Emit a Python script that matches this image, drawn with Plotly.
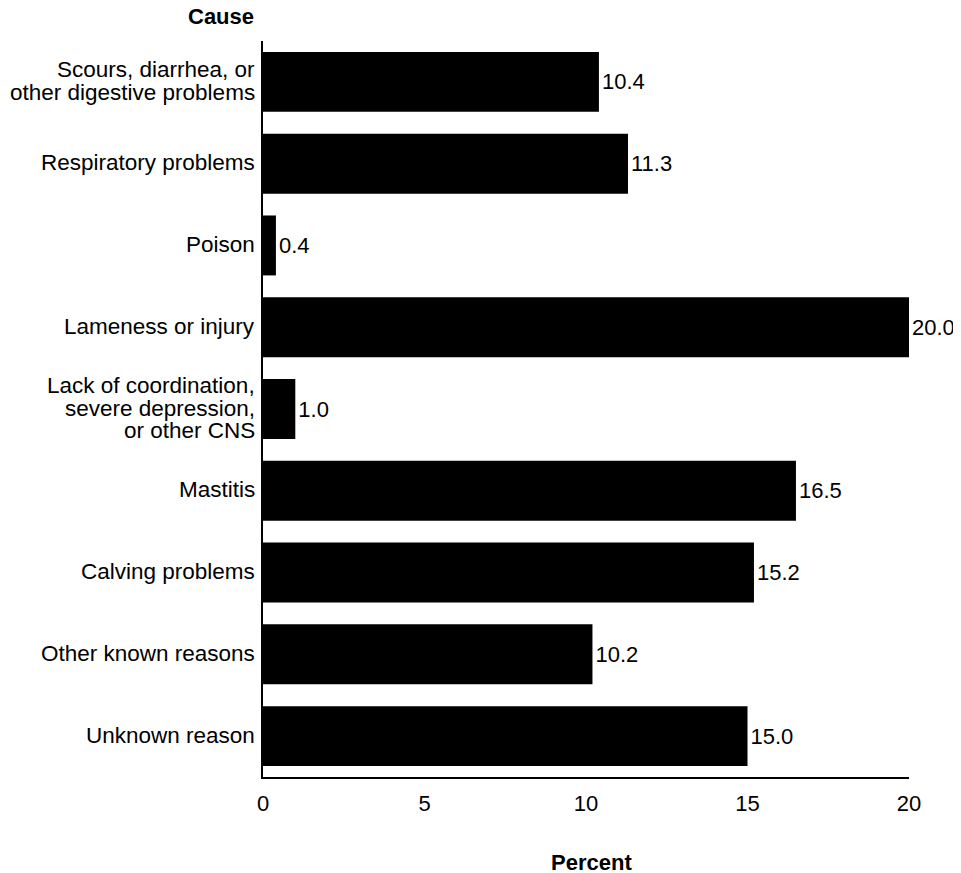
import plotly.graph_objects as go

causes = [
    "Scours, diarrhea, or<br>other digestive problems",
    "Respiratory problems",
    "Poison",
    "Lameness or injury",
    "Lack of coordination,<br>severe depression,<br>or other CNS",
    "Mastitis",
    "Calving problems",
    "Other known reasons",
    "Unknown reason",
]
percent = [10.4, 11.3, 0.4, 20.0, 1.0, 16.5, 15.2, 10.2, 15.0]
x_ticks = [0, 5, 10, 15, 20]

FONT = "Arial, Liberation Sans, Helvetica, sans-serif"
LABEL_SIZE = 22.5
LINE_STEP = 22.7

fig = go.Figure(
    go.Bar(
        x=percent,
        y=causes,
        orientation="h",
        marker=dict(color="black", line=dict(width=0)),
        text=[f"{v:.1f}" for v in percent],
        textposition="outside",
        textfont=dict(size=22, color="black", family=FONT),
        cliponaxis=False,
        hoverinfo="skip",
    )
)

annotations = []
# category labels, one annotation per text line (tight line spacing as in the original)
for cat in causes:
    lines = cat.split("<br>")
    n = len(lines)
    for i, line in enumerate(lines):
        annotations.append(
            dict(
                text=line,
                xref="x", yref="y",
                x=0, y=cat,
                xanchor="right", yanchor="middle",
                xshift=-6,
                yshift=1 - (i - (n - 1) / 2) * LINE_STEP,
                showarrow=False,
                font=dict(size=LABEL_SIZE, family=FONT, color="black"),
            )
        )

annotations.append(
    dict(
        text="<b>Cause</b>",
        xref="paper", yref="paper",
        x=0, y=1,
        xanchor="right", yanchor="middle",
        xshift=-7, yshift=25,
        showarrow=False,
        font=dict(size=22, family=FONT, color="black"),
    )
)
annotations.append(
    dict(
        text="<b>Percent</b>",
        xref="paper", yref="paper",
        x=0.5, y=0,
        xanchor="center", yanchor="middle",
        xshift=5, yshift=-85,
        showarrow=False,
        font=dict(size=22, family=FONT, color="black"),
    )
)

fig.update_layout(
    width=953,
    height=865,
    margin=dict(l=255, r=52, t=33, b=96),
    paper_bgcolor="white",
    plot_bgcolor="white",
    font=dict(family=FONT, size=22, color="black"),
    bargap=0.267,
    showlegend=False,
    annotations=annotations,
)

fig.update_xaxes(
    range=[0, 20],
    tickvals=x_ticks,
    ticktext=[str(t) for t in x_ticks],
    showgrid=False,
    zeroline=False,
    showline=True,
    linecolor="black",
    linewidth=2,
    ticks="",
    ticklabelstandoff=6,
    tickfont=dict(size=22),
    automargin=False,
)

fig.update_yaxes(
    categoryorder="array",
    categoryarray=causes,
    autorange="reversed",
    showgrid=False,
    zeroline=False,
    showline=True,
    linecolor="black",
    linewidth=2,
    ticks="",
    showticklabels=False,
    automargin=False,
)

fig.write_html("out.html")
